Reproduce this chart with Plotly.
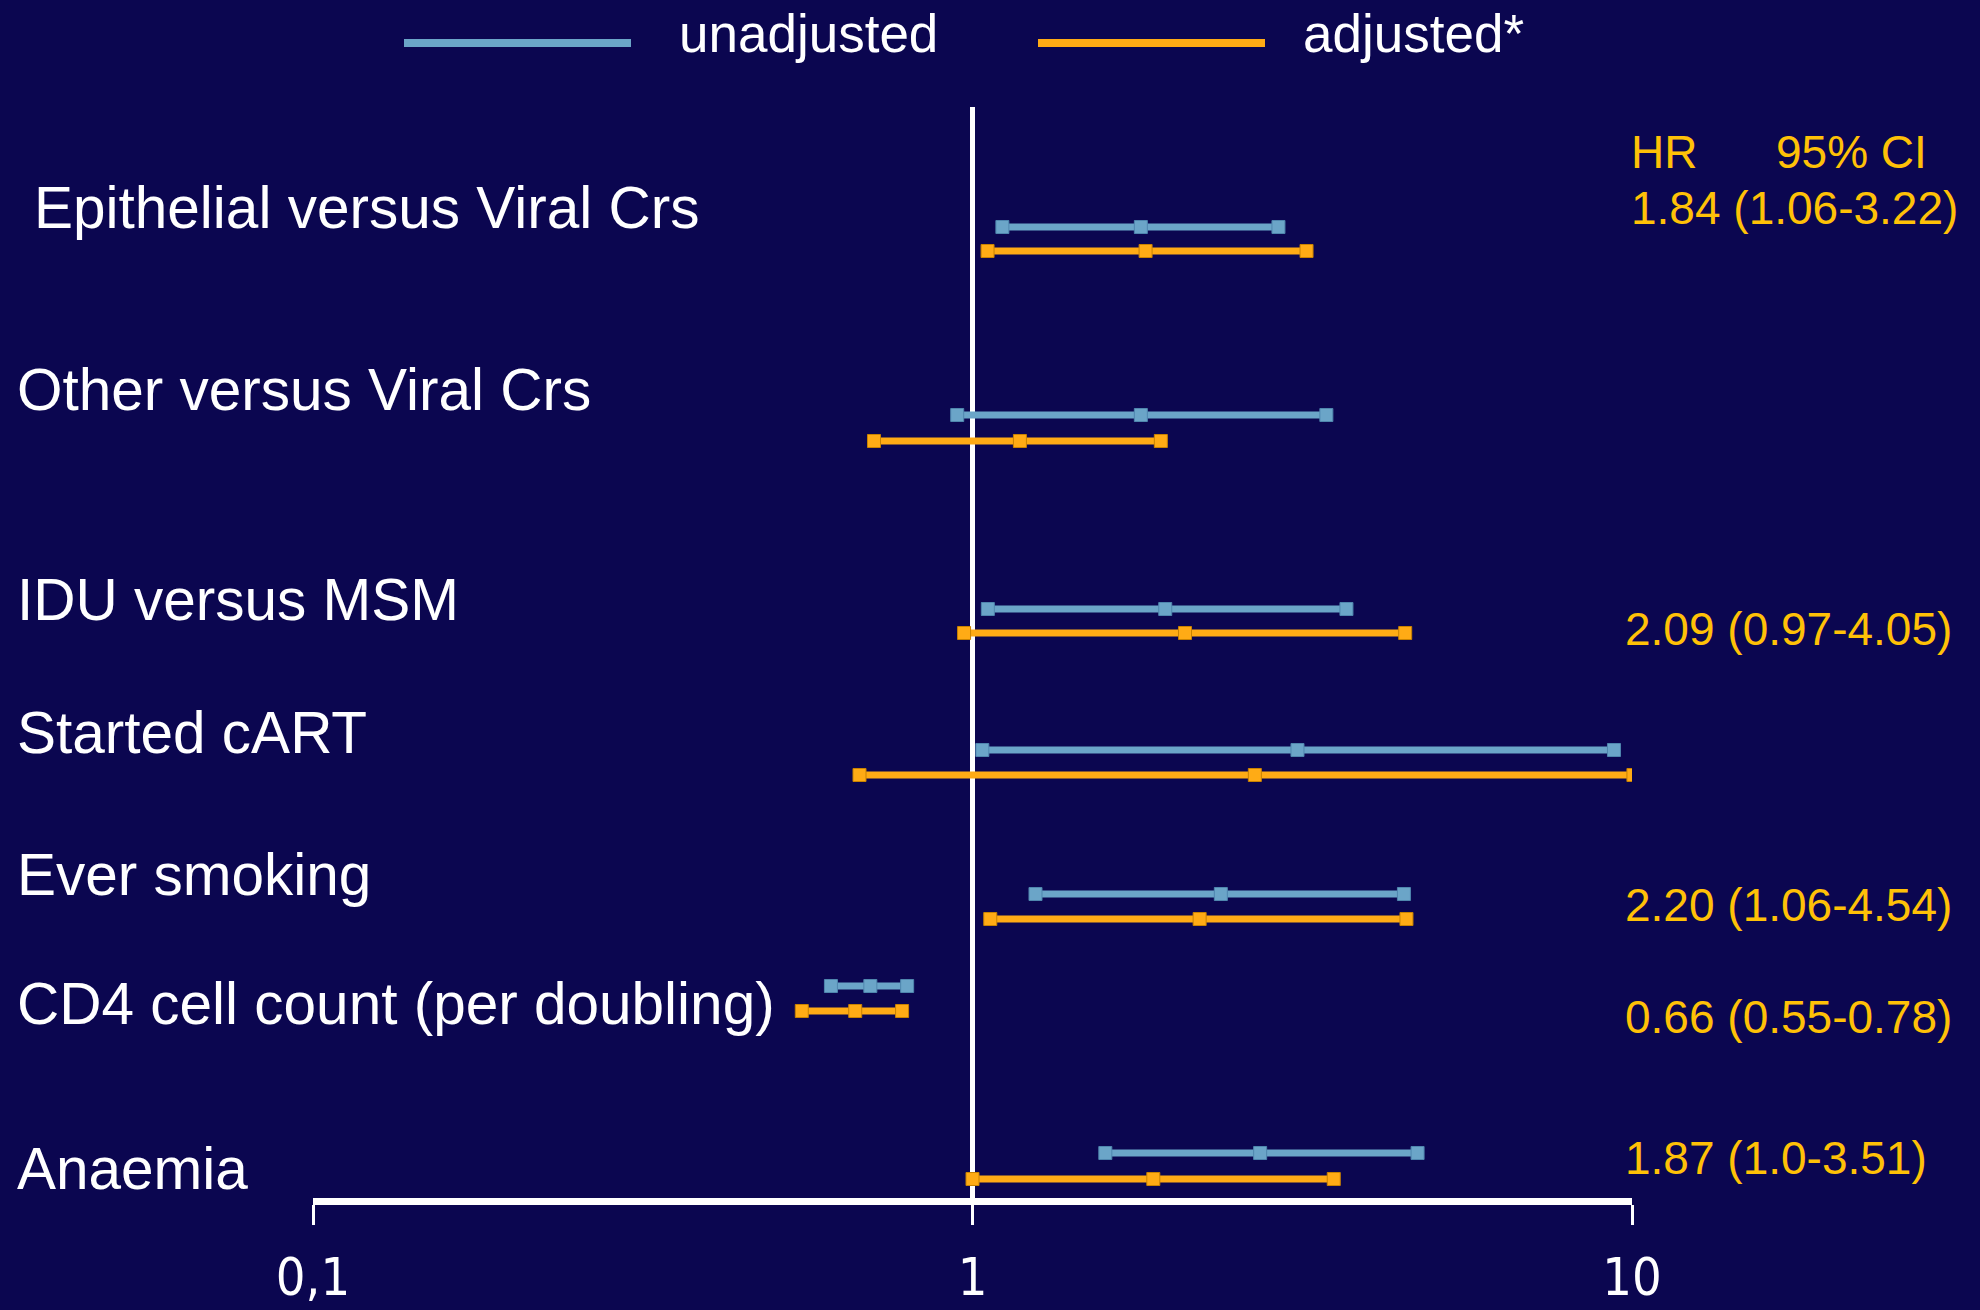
import plotly.graph_objects as go

# ---- data ----
labels = ["Epithelial versus Viral Crs", "Other versus Viral Crs", "IDU versus MSM",
          "Started cART", "Ever smoking", "CD4 cell count (per doubling)", "Anaemia"]
unadj_hr = [1.80, 1.80, 1.96, 3.11, 2.38, 0.70, 2.73]
unadj_lo = [1.11, 0.948, 1.055, 1.035, 1.246, 0.61, 1.59]
unadj_hi = [2.91, 3.44, 3.69, 9.39, 4.51, 0.796, 4.73]
adj_hr = [1.83, 1.18, 2.10, 2.68, 2.21, 0.664, 1.88]
adj_lo = [1.054, 0.709, 0.971, 0.674, 1.064, 0.551, 1.0]
adj_hi = [3.21, 1.93, 4.53, 10.05, 4.55, 0.782, 3.53]
hr_text = ["1.84 (1.06-3.22)", "", "2.09 (0.97-4.05)", "", "2.20 (1.06-4.54)",
           "0.66 (0.55-0.78)", "1.87 (1.0-3.51)"]
tick_vals = [0.1, 1, 10]
tick_text = ["0,1", "1", "10"]

# ---- layout positions (pixel-like row coordinates) ----
row_unadj_y = [227, 415, 609, 750, 894, 986, 1153]
row_adj_y = [251, 441, 633, 775, 919, 1011, 1179]
label_y = [208, 389, 599, 732, 874, 1003, 1168]
label_x = [32, 15, 15, 15, 15, 15, 15]
text_y = [208, None, 629, None, 905, 1017, 1158]
text_x = [1629, None, 1623, None, 1623, 1623, 1623]

BG = "#0B0650"
BLUE = "#6BA5C8"
ORANGE = "#FFAB15"
TXT_OR = "#FFC107"
W, H = 1980, 1310
AX_Y = 1198
FONT = "Liberation Sans, Arial, sans-serif"

fig = go.Figure()

for i in range(len(labels)):
    fig.add_trace(go.Scatter(
        x=[unadj_lo[i], unadj_hr[i], unadj_hi[i]], y=[row_unadj_y[i]] * 3,
        mode="lines+markers", line=dict(color=BLUE, width=7),
        marker=dict(symbol="square", size=13, color=BLUE, line=dict(color="#4F86AE", width=1)),
        showlegend=False, hoverinfo="skip"))
    fig.add_trace(go.Scatter(
        x=[adj_lo[i], adj_hr[i], adj_hi[i]], y=[row_adj_y[i]] * 3,
        mode="lines+markers", line=dict(color=ORANGE, width=7),
        marker=dict(symbol="square", size=13, color=ORANGE, line=dict(color="#C98200", width=1)),
        showlegend=False, hoverinfo="skip"))

annotations = []
for i, lab in enumerate(labels):
    annotations.append(dict(x=label_x[i] / W, y=1 - label_y[i] / H, xref="paper", yref="paper",
                            text=lab, showarrow=False, xanchor="left", yanchor="middle",
                            font=dict(family=FONT, size=58.5, color="white")))
    if hr_text[i]:
        annotations.append(dict(x=text_x[i] / W, y=1 - text_y[i] / H, xref="paper", yref="paper",
                                text=hr_text[i], showarrow=False, xanchor="left", yanchor="middle",
                                font=dict(family=FONT, size=46, color=TXT_OR)))
# header
annotations.append(dict(x=1629 / W, y=1 - 152 / H, xref="paper", yref="paper", text="HR",
                        showarrow=False, xanchor="left", yanchor="middle",
                        font=dict(family=FONT, size=46, color=TXT_OR)))
annotations.append(dict(x=1774 / W, y=1 - 152 / H, xref="paper", yref="paper", text="95% CI",
                        showarrow=False, xanchor="left", yanchor="middle",
                        font=dict(family=FONT, size=46, color=TXT_OR)))
# legend
legend_font = dict(family="Liberation Sans Narrow, Arial Narrow, Liberation Sans, sans-serif", size=53, color="white")
annotations.append(dict(x=677 / W, y=1 - 33 / H, xref="paper", yref="paper", text="unadjusted",
                        showarrow=False, xanchor="left", yanchor="middle", font=legend_font))
annotations.append(dict(x=1301 / W, y=1 - 33 / H, xref="paper", yref="paper", text="adjusted*",
                        showarrow=False, xanchor="left", yanchor="middle", font=legend_font))

shapes = [
    dict(type="line", xref="paper", yref="paper", x0=404 / W, x1=631 / W, y0=1 - 43 / H, y1=1 - 43 / H,
         line=dict(color=BLUE, width=8)),
    dict(type="line", xref="paper", yref="paper", x0=1038 / W, x1=1265 / W, y0=1 - 43 / H, y1=1 - 43 / H,
         line=dict(color=ORANGE, width=8)),
    dict(type="line", xref="x", yref="y", x0=1, x1=1, y0=107, y1=AX_Y,
         line=dict(color="white", width=5), layer="below"),
]

fig.update_layout(
    width=W, height=H, autosize=False,
    paper_bgcolor=BG, plot_bgcolor=BG,
    margin=dict(l=0, r=0, t=0, b=0, pad=0),
    showlegend=False,
    annotations=annotations,
    shapes=shapes,
    xaxis=dict(type="log", range=[-1, 1], domain=[313 / W, 1632 / W], automargin=False,
               showgrid=False, zeroline=False, showline=True, linecolor="white", linewidth=7,
               ticks="outside", ticklen=20, tickwidth=3, tickcolor="white",
               tickvals=tick_vals, ticktext=tick_text, ticklabelstandoff=8,
               tickfont=dict(family="Liberation Sans Narrow, DejaVu Sans Condensed, Arial Narrow, sans-serif",
                             size=52, color="white")),
    yaxis=dict(range=[AX_Y, 0], domain=[(H - AX_Y) / H, 1], visible=False, automargin=False,
               showgrid=False, zeroline=False),
)

fig.write_html("out.html", config={"responsive": False, "displayModeBar": False},
               post_script="document.body.style.margin='0';document.body.style.overflow='hidden';")
